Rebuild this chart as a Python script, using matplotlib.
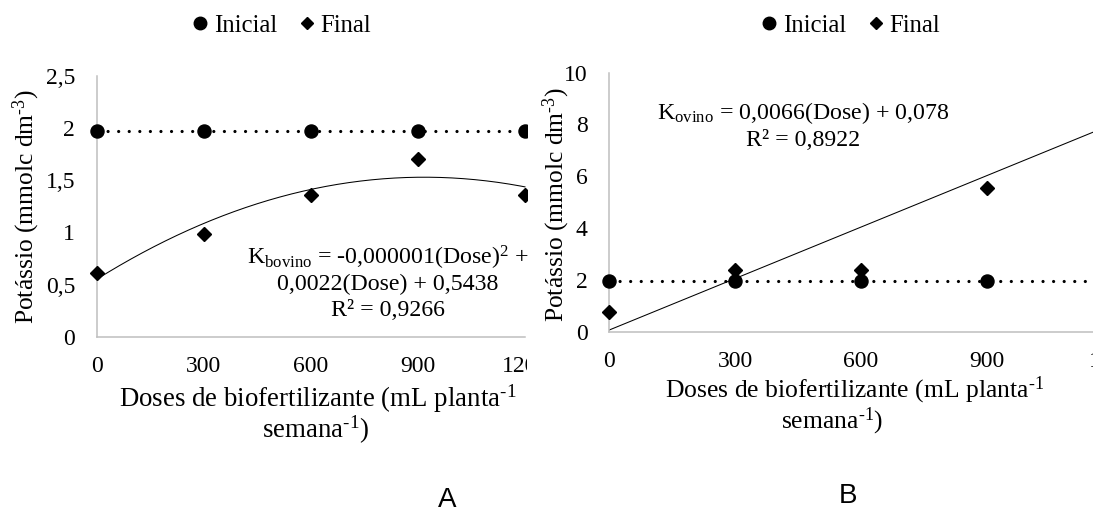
import matplotlib
matplotlib.use('Agg')
import matplotlib.pyplot as plt
import numpy as np
from matplotlib.lines import Line2D
from matplotlib.transforms import Bbox, TransformedBbox

# ---------------- data ----------------
doses = [0, 300, 600, 900, 1200]
xtick_labels = ['0', '300', '600', '900', '1200']

inicial_a = [1.97, 1.97, 1.97, 1.97, 1.97]
final_a = [0.61, 0.985, 1.36, 1.70, 1.36]
yticks_a = [0, 0.5, 1, 1.5, 2, 2.5]
ytick_labels_a = ['0', '0,5', '1', '1,5', '2', '2,5']

inicial_b = [1.97, 1.97, 1.97, 1.97, 1.97]
final_b = [0.77, 2.38, 2.38, 5.54, 9.12]
yticks_b = [0, 2, 4, 6, 8, 10]
ytick_labels_b = ['0', '2', '4', '6', '8', '10']

legend_labels = ['Inicial', 'Final']
HY = '\u2010'
ylabel = 'Potássio (mmolc dm$^{\\mathregular{' + HY + '3}}$)'
xlabel_1 = 'Doses de biofertilizante (mL planta$^{\\mathregular{' + HY + '1}}$'
xlabel_2 = 'semana$^{\\mathregular{' + HY + '1}}$)'
eq_a = ['K$_{\\mathregular{bovino}}$ = -0,000001(Dose)$^{\\mathregular{2}}$ +',
        '0,0022(Dose) + 0,5438',
        'R² = 0,9266']
eq_b = ['K$_{\\mathregular{ovino}}$ = 0,0066(Dose) + 0,078',
        'R² = 0,8922']

# ---------------- style ----------------
plt.rcParams['font.family'] = ['Liberation Serif', 'DejaVu Serif']
plt.rcParams['mathtext.fontset'] = 'custom'
plt.rcParams['mathtext.rm'] = 'Liberation Serif'
plt.rcParams['mathtext.it'] = 'Liberation Serif:italic'
plt.rcParams['mathtext.bf'] = 'Liberation Serif:bold'

W, H = 1093, 524
FS_TICK = 17.0
FS_LEG = 17.8
FS_EQ = 17.2
FS_YL = 18.4
FS_XL = 19.4
SPINE = '#bfbfbf'

fig = plt.figure(figsize=(W / 100, H / 100), dpi=100)
fig.patch.set_facecolor('white')


def fx(x):
    return x / W


def fy(y):
    return 1 - y / H


axA = fig.add_axes([fx(96.7), (H - 336.7) / H, (525 - 96.7) / W, (336.7 - 76) / H])
axB = fig.add_axes([fx(609.3), (H - 331.7) / H, (1112.5 - 609.3) / W, (331.7 - 72.7) / H])

cropA = TransformedBbox(Bbox([[0, 0], [527 / W, 1]]), fig.transFigure)

dot_style = dict(color='black', lw=2.3, linestyle=(0, (0.01, 3.3)),
                 dash_capstyle='round', solid_capstyle='round')


def style_axes(ax, ylim, yt, ytl):
    ax.set_xlim(0, 1200)
    ax.set_ylim(*ylim)
    ax.set_xticks(doses, labels=xtick_labels)
    ax.set_yticks(yt, labels=ytl)
    for s in ['top', 'right']:
        ax.spines[s].set_visible(False)
    for s in ['left', 'bottom']:
        ax.spines[s].set_color(SPINE)
        ax.spines[s].set_linewidth(1.1)
    ax.tick_params(axis='both', length=0, labelsize=FS_TICK)
    ax.tick_params(axis='x', pad=14.0)
    ax.tick_params(axis='y', pad=15.5)
    ax.set_facecolor('none')


style_axes(axA, (0, 2.5), yticks_a, ytick_labels_a)
style_axes(axB, (0, 10), yticks_b, ytick_labels_b)

# ---------- Panel A ----------
xs = np.linspace(0, 1200, 300)
ca = np.polyfit(doses, final_a, 2)
arts = []
arts += axA.plot(doses, inicial_a, **dot_style, zorder=2)
arts += axA.plot(xs, np.polyval(ca, xs), color='black', lw=0.75, zorder=2)
arts += axA.plot(doses, inicial_a, 'o', color='black', ms=9.4, zorder=3)
arts += axA.plot(doses, final_a, 'D', color='black', ms=7.6, zorder=3)
for a in arts:
    a.set_clip_on(True)
    a.set_clip_box(cropA)
    a.set_clip_path(None)
for lbl in axA.get_xticklabels():
    lbl.set_clip_on(True)
    lbl.set_clip_box(cropA)

# ---------- Panel B ----------
cb = np.polyfit(doses, final_b, 1)
axB.plot(doses, inicial_b, **dot_style, zorder=2, clip_on=False)
axB.plot(xs, np.polyval(cb, xs), color='black', lw=0.75, zorder=2)
axB.plot(doses, inicial_b, 'o', color='black', ms=9.4, zorder=3, clip_on=False)
axB.plot(doses, final_b, 'D', color='black', ms=7.6, zorder=3, clip_on=False)

# ---------- legends ----------
handles = [Line2D([], [], marker='o', ls='none', color='black', ms=9.0),
           Line2D([], [], marker='D', ls='none', color='black', ms=5.8)]
for cx in (282, 851):
    fig.legend(handles, legend_labels, loc='center', bbox_to_anchor=(fx(cx), fy(26)),
               ncol=2, frameon=False, fontsize=FS_LEG, handlelength=0.6,
               handletextpad=0.25, columnspacing=0.9, borderpad=0, borderaxespad=0)

# ---------- equations ----------
for s, y in zip(eq_a, (258, 284, 310)):
    fig.text(fx(388), fy(y), s, ha='center', va='center', fontsize=FS_EQ)
for s, y in zip(eq_b, (113, 140)):
    fig.text(fx(803.5), fy(y), s, ha='center', va='center', fontsize=FS_EQ)

# ---------- axis titles ----------
fig.text(fx(26), fy(207), ylabel, rotation=90, ha='center', va='center', fontsize=FS_YL)
fig.text(fx(556), fy(205), ylabel, rotation=90, ha='center', va='center', fontsize=FS_YL)

fig.text(fx(318), fy(407), xlabel_1, ha='center', va='baseline', fontsize=FS_XL)
fig.text(fx(315), fy(438), xlabel_2, ha='center', va='baseline', fontsize=FS_XL)
fig.text(fx(855), fy(397), xlabel_1, ha='center', va='baseline', fontsize=FS_XL * 0.95)
fig.text(fx(832), fy(428), xlabel_2, ha='center', va='baseline', fontsize=FS_XL * 0.95)

# ---------- panel letters ----------
fig.text(fx(447), fy(500), 'A', ha='center', va='center', fontsize=20,
         family=['Liberation Sans', 'DejaVu Sans'])
fig.text(fx(848), fy(496), 'B', ha='center', va='center', fontsize=20,
         family=['Liberation Sans', 'DejaVu Sans'])

fig.savefig('out.png', dpi=100, facecolor='white')
